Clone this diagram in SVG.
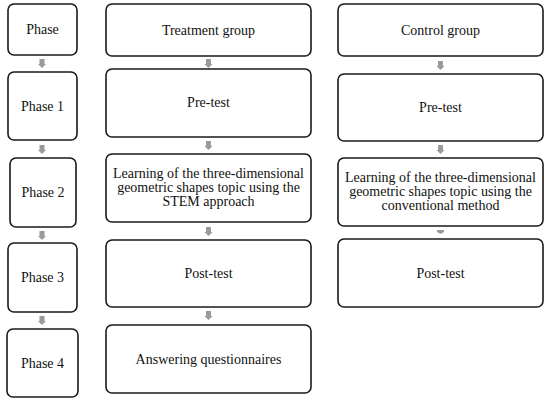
<svg xmlns="http://www.w3.org/2000/svg" width="550" height="403" viewBox="0 0 550 403">
<style>
.box{fill:#fff;stroke:#1a1a1a;stroke-width:1.6}
.t{font-size:14px;fill:#111;text-anchor:middle}
.arr{fill:#9a9a9a}
</style>
<defs>
<path id="ar" d="M-2.5,0 H2.5 V5 H4 L0,9 L-4,5 H-2.5 Z"/>
</defs>
<rect width="550" height="403" fill="#fff"/>
<g font-family="'Liberation Serif', 'DejaVu Serif', serif">
<g id="phase"><rect class="box" x="8" y="4" width="69" height="51" rx="6"/><text class="t" x="42.5" y="34">Phase</text></g>
<g id="phase1"><rect class="box" x="8" y="72" width="69" height="68" rx="6"/><text class="t" x="42.5" y="111">Phase 1</text></g>
<g id="phase2"><rect class="box" x="10" y="158" width="66" height="69" rx="6"/><text class="t" x="43" y="197">Phase 2</text></g>
<g id="phase3"><rect class="box" x="8" y="243" width="69" height="69" rx="6"/><text class="t" x="42.5" y="282">Phase 3</text></g>
<g id="phase4"><rect class="box" x="7" y="329" width="71" height="68" rx="6"/><text class="t" x="42.5" y="368">Phase 4</text></g>
<g id="treatment"><rect class="box" x="106" y="4" width="205" height="52" rx="6"/><text class="t" x="208.5" y="35">Treatment group</text></g>
<g id="t-pretest"><rect class="box" x="106" y="69" width="205" height="68" rx="6"/><text class="t" x="208.5" y="107">Pre-test</text></g>
<g id="t-learning"><rect class="box" x="106" y="154" width="205" height="68" rx="6"/><text class="t" x="208.5" y="178">Learning of the three-dimensional</text><text class="t" x="208.5" y="192">geometric shapes topic using the</text><text class="t" x="208.5" y="206">STEM approach</text></g>
<g id="t-posttest"><rect class="box" x="106" y="240" width="205" height="67" rx="6"/><text class="t" x="208.5" y="278">Post-test</text></g>
<g id="t-questionnaires"><rect class="box" x="106" y="325" width="205" height="68" rx="6"/><text class="t" x="208.5" y="364">Answering questionnaires</text></g>
<g id="control"><rect class="box" x="338" y="4" width="205" height="52" rx="6"/><text class="t" x="440.5" y="35">Control group</text></g>
<g id="c-pretest"><rect class="box" x="338" y="74" width="205" height="67" rx="6"/><text class="t" x="440.5" y="112">Pre-test</text></g>
<g id="c-learning"><rect class="box" x="338" y="158" width="205" height="68" rx="6"/><text class="t" x="440.5" y="182">Learning of the three-dimensional</text><text class="t" x="440.5" y="196">geometric shapes topic using the</text><text class="t" x="440.5" y="210">conventional method</text></g>
<g id="c-posttest"><rect class="box" x="338" y="239" width="205" height="68" rx="6"/><text class="t" x="440.5" y="278">Post-test</text></g>
</g>
<g id="connectors" class="arr">
<use href="#ar" x="42" y="59"/>
<use href="#ar" x="42" y="145"/>
<use href="#ar" x="42" y="231"/>
<use href="#ar" x="42" y="316"/>
<use href="#ar" x="208.5" y="59"/>
<use href="#ar" x="208.5" y="141"/>
<use href="#ar" x="208.5" y="227"/>
<use href="#ar" x="208.5" y="311"/>
<use href="#ar" x="440.5" y="61"/>
<use href="#ar" x="440.5" y="145"/>
<path d="M437,230 H444 V232 L440.5,234 L437,232 Z"/>
</g>
</svg>
